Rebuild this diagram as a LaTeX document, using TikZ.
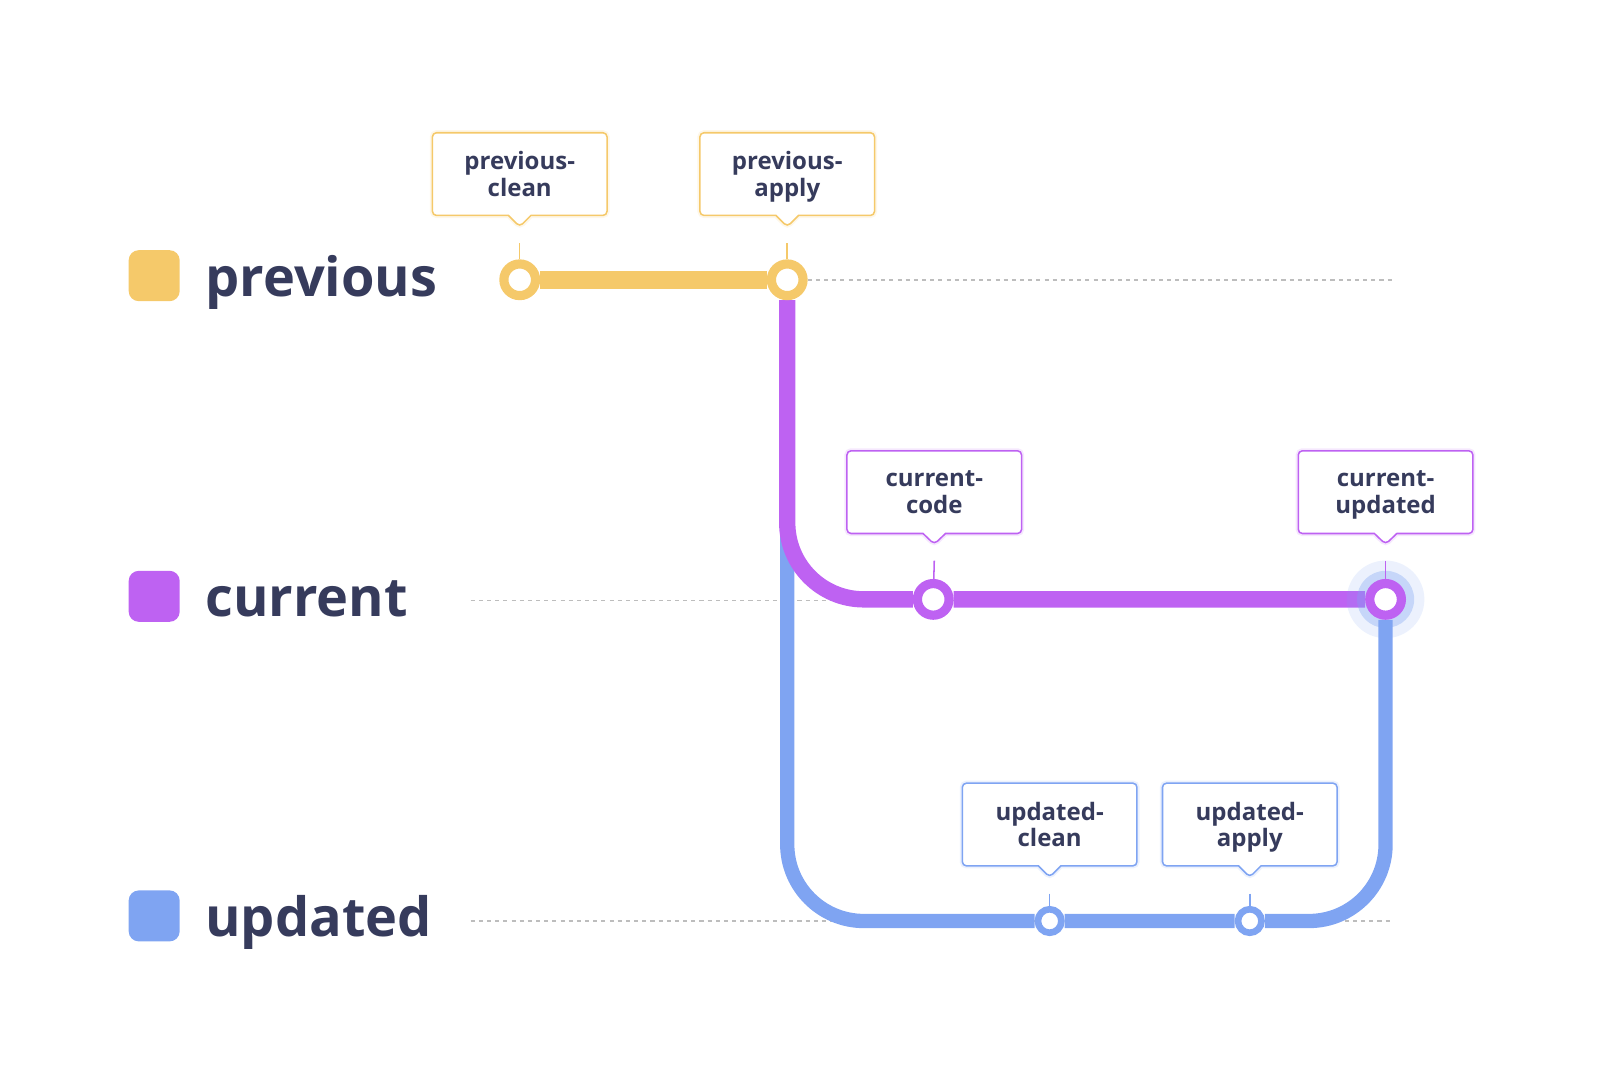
\documentclass[tikz,border=0pt]{standalone}
\usepackage{fontspec}
\setmainfont{Open Sans}
\usetikzlibrary{positioning,shapes.callouts,backgrounds}

\definecolor{prevcol}{HTML}{F5C96A}
\definecolor{currcol}{HTML}{BE62F2}
\definecolor{updcol}{HTML}{7FA4F2}
\definecolor{inkcol}{HTML}{363B5C}
\definecolor{guidecol}{HTML}{BDBDBD}

\tikzset{
	legsq/.style={rectangle, rounded corners=10pt, minimum size=50pt, inner sep=0pt, fill=#1},
	legtext/.style={anchor=base west, inner sep=0pt, text=inkcol,
		font=\fontsize{53}{60}\selectfont\bfseries},
	guide/.style={guidecol, line width=1.5pt, dash pattern=on 4pt off 4pt},
	track/.style={draw=#1, line width=16pt, rounded corners=75pt},
	stop/.style={circle, draw=#1, fill=white, line width=9pt, minimum size=31pt, inner sep=0pt},
	smallstop/.style={circle, draw=#1, fill=white, line width=6.5pt, minimum size=23pt, inner sep=0pt},
	tag/.style={rectangle callout, draw=#1, fill=white, line width=1.5pt, rounded corners=4pt,
		preaction={draw=#1, opacity=0.15, line width=5pt},
		minimum width=171pt, minimum height=81pt, inner sep=0pt, align=center, text=inkcol,
		text depth=0pt, font=\fontsize{23.5}{26}\selectfont\bfseries, callout pointer width=22pt},
	stem/.style={draw=#1, line width=1.5pt}
}

\begin{document}
\begin{tikzpicture}[x=1pt,y=-1pt]
	\useasboundingbox (0,0) rectangle (1567,1058);

	% legend
	\node[legsq=prevcol] (lprev) at (151,270) {};
	\node[legsq=currcol] (lcurr) at (151,584) {};
	\node[legsq=updcol] (lupd) at (151,897) {};
	\node[legtext] (tprev) at (201,290) {previous};
	\node[legtext] (tcurr) at (201,604) {current};
	\node[legtext] (tupd) at (201,917) {updated};

	% stations
	\node[stop=prevcol] (pc) at (509,274) {};
	\node[stop=prevcol] (pa) at (771,274) {};
	\node[stop=currcol] (cc) at (914,587) {};
	\node[stop=currcol] (cu) at (1357,587) {};
	\node[smallstop=updcol] (uc) at (1028,902) {};
	\node[smallstop=updcol] (ua) at (1224,902) {};

	% tags
	\node[tag=prevcol, callout absolute pointer={(509,222)}] (pcbox) at (509,170.5) {previous-\\clean};
	\node[tag=prevcol, callout absolute pointer={(771,222)}] (pabox) at (771,170.5) {previous-\\apply};
	\node[tag=currcol, callout absolute pointer={(915,533)}] (ccbox) at (915,482) {current-\\code};
	\node[tag=currcol, callout absolute pointer={(1357,533)}] (cubox) at (1357,482) {current-\\updated};
	\node[tag=updcol, callout absolute pointer={(1028,859)}] (ucbox) at (1028,807.5) {updated-\\clean};
	\node[tag=updcol, callout absolute pointer={(1224,859)}] (uabox) at (1224,807.5) {updated-\\apply};

	\draw[stem=prevcol] ([yshift=-15pt]pcbox.pointer) -- (pc);
	\draw[stem=prevcol] ([yshift=-15pt]pabox.pointer) -- (pa);
	\draw[stem=currcol] ([yshift=-15pt]ccbox.pointer) -- (cc);
	\draw[stem=currcol] ([yshift=-15pt]cubox.pointer) -- (cu);
	\draw[stem=updcol] ([yshift=-15pt]ucbox.pointer) -- (uc);
	\draw[stem=updcol] ([yshift=-15pt]uabox.pointer) -- (ua);

	\begin{scope}[on background layer]
		\coordinate (pend) at (1363,274);
		\coordinate (cbeg) at (461,588);
		\coordinate (cend) at (1363,588);
		\coordinate (ubeg) at (461,902);
		\coordinate (uend) at (1363,902);
		\coordinate (ustart) at (771,470);

		\draw[guide] (pa) -- (pend);
		\draw[guide] (cbeg) -- (cend);
		\draw[guide] (ubeg) -- (uend);

		% blue one runs under the purple one
		\draw[track=updcol, line width=14pt] (ustart) |- (uc) -- (ua) -| (cu);
		\draw[track=currcol] (pa) |- (cc) -- (cu);
		\draw[track=prevcol, line width=18pt] (pc) -- (pa);

		% glow round current-updated
		\fill[updcol, opacity=0.15] (cu) circle (38);
		\fill[updcol, opacity=0.35] (cu) circle (28);
	\end{scope}
\end{tikzpicture}
\end{document}
